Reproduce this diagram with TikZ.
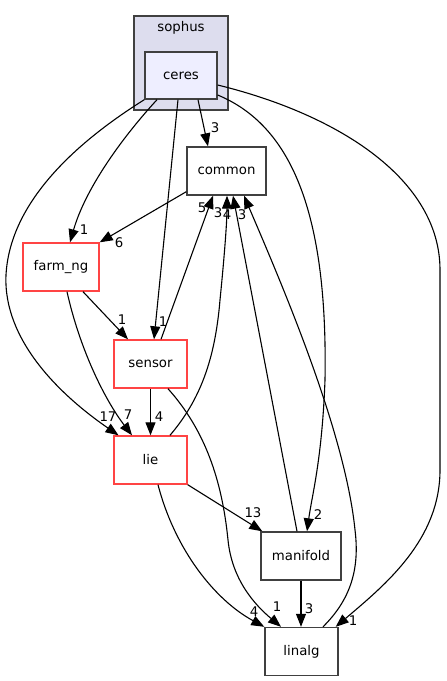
\documentclass[tikz,border=0pt]{standalone}
\usepackage{fontspec}
\setmainfont{DejaVu Sans}
\usetikzlibrary{arrows.meta}
\definecolor{clusterfill}{HTML}{DDDDEE}
\definecolor{ceresfill}{HTML}{EEEEFF}
\definecolor{boxline}{HTML}{404040}
\definecolor{redline}{HTML}{FF4444}
\begin{document}
\begin{tikzpicture}[x=1pt,y=-1pt,
  every node/.style={font=\fontsize{13.3}{15}\selectfont, inner sep=0pt},
  dirbox/.style={draw=boxline, line width=1.4pt, fill=white, minimum height=48pt},
  redbox/.style={draw=redline, line width=1.4pt, fill=white, minimum height=48pt},
  conn/.style={draw=black, line width=1.1pt, -{Triangle[length=13pt,width=10pt]}},
  lbl/.style={font=\fontsize{13.3}{15}\selectfont}
]
\path[fill=white] (0,0) rectangle (447,681);
\useasboundingbox (0,0) rectangle (447,681);

% cluster
\node[draw=boxline, fill=clusterfill, line width=1.4pt, minimum width=94pt, minimum height=94pt] (sophus) at (181,63) {};
\node (sophustitle) at (181,28) {sophus};

% nodes
\node[dirbox, fill=ceresfill, minimum width=72pt, minimum height=47pt] (ceres) at (181,75.5) {ceres};
\node[dirbox, minimum width=79pt] (common) at (226.5,171) {common};
\node[redbox, minimum width=76pt] (farm) at (61,267) {farm\_ng};
\node[redbox, minimum width=73pt] (sensor) at (150.5,364) {sensor};
\node[redbox, minimum width=73pt] (lie) at (150.5,460) {lie};
\node[dirbox, minimum width=80pt] (manifold) at (301,556) {manifold};
\node[dirbox, minimum width=73pt] (linalg) at (301.5,651.5) {linalg};

% edges from ceres
\draw[conn] ([xshift=17]ceres.south) -- ([xshift=-18.5]common.north);
\draw[conn] ([xshift=-24]ceres.south) .. controls (120,140) and (85,190) .. ([xshift=9]farm.north);
\draw[conn] ([xshift=-3]ceres.south) -- ([xshift=3.5]sensor.north);
\draw[conn] (ceres.south west) .. controls (80,140) and (10,200) .. (6,275)
  .. controls (3,340) and (60,395) .. ([xshift=-32]lie.north);
\draw[conn] ([yshift=-19.5]ceres.east) .. controls (290,125) and (328,210) .. (325,380)
  .. controls (322,460) and (312,495) .. ([xshift=6]manifold.north);
\draw[conn] ([yshift=-9.5]ceres.east) .. controls (340,115) and (440,180) .. (440,270)
  -- (440,470) .. controls (440,540) and (385,585) .. ([xshift=-3]linalg.north east);

% common -> farm_ng
\draw[conn] ([yshift=4]common.south west) -- (farm.north east);

% farm_ng edges
\draw[conn] ([xshift=22]farm.south) -- ([xshift=-22.5]sensor.north);
\draw[conn] ([xshift=6]farm.south) .. controls (80,350) and (105,400) .. ([xshift=-18.5]lie.north);

% edges into common
\draw[conn] ([xshift=10.5]sensor.north) -- ([xshift=-13.5]common.south);
\draw[conn] ([xshift=19.5]lie.north) .. controls (200,400) and (215,360) .. (220,300)
  .. controls (225,250) and (227,220) .. ([xshift=0.5]common.south);
\draw[conn] ([xshift=-4]manifold.north) -- ([xshift=6.5]common.south);
\draw[conn] ([xshift=21.5]linalg.north) .. controls (350,600) and (360,570) .. (355,530)
  .. controls (345,430) and (280,280) .. ([xshift=17.5]common.south);

% sensor edges
\draw[conn] (sensor.south) -- (lie.north);
\draw[conn] ([xshift=17.5]sensor.south) .. controls (205,430) and (222,480) .. (228,540)
  .. controls (232,580) and (255,605) .. ([xshift=-20.5]linalg.north);

% lie edges
\draw[conn] (lie.south east) -- ([xshift=2]manifold.north west);
\draw[conn] ([xshift=7.5]lie.south) .. controls (175,550) and (215,600) .. (linalg.north west);

% manifold -> linalg
\draw[conn] (manifold.south) -- ([xshift=-0.5]linalg.north);

% labels
\node[lbl] (l1) at (215,128) {3};
\node[lbl] (l2) at (84,230) {1};
\node[lbl] (l3) at (119,243) {6};
\node[lbl] (l4) at (163,322) {1};
\node[lbl] (l5) at (122,320) {1};
\node[lbl] (l6) at (108,417) {17};
\node[lbl] (l7) at (128,415) {7};
\node[lbl] (l8) at (159,417) {4};
\node[lbl] (l9) at (202,208) {5};
\node[lbl] (l10) at (218,213) {3};
\node[lbl] (l11) at (227,215) {4};
\node[lbl] (l12) at (242,215) {3};
\node[lbl] (l13) at (253,513) {13};
\node[lbl] (l14) at (318,515) {2};
\node[lbl] (l15) at (254,612) {4};
\node[lbl] (l16) at (277,607) {1};
\node[lbl] (l17) at (309,609) {3};
\node[lbl] (l18) at (353,621) {1};
\end{tikzpicture}
\end{document}
